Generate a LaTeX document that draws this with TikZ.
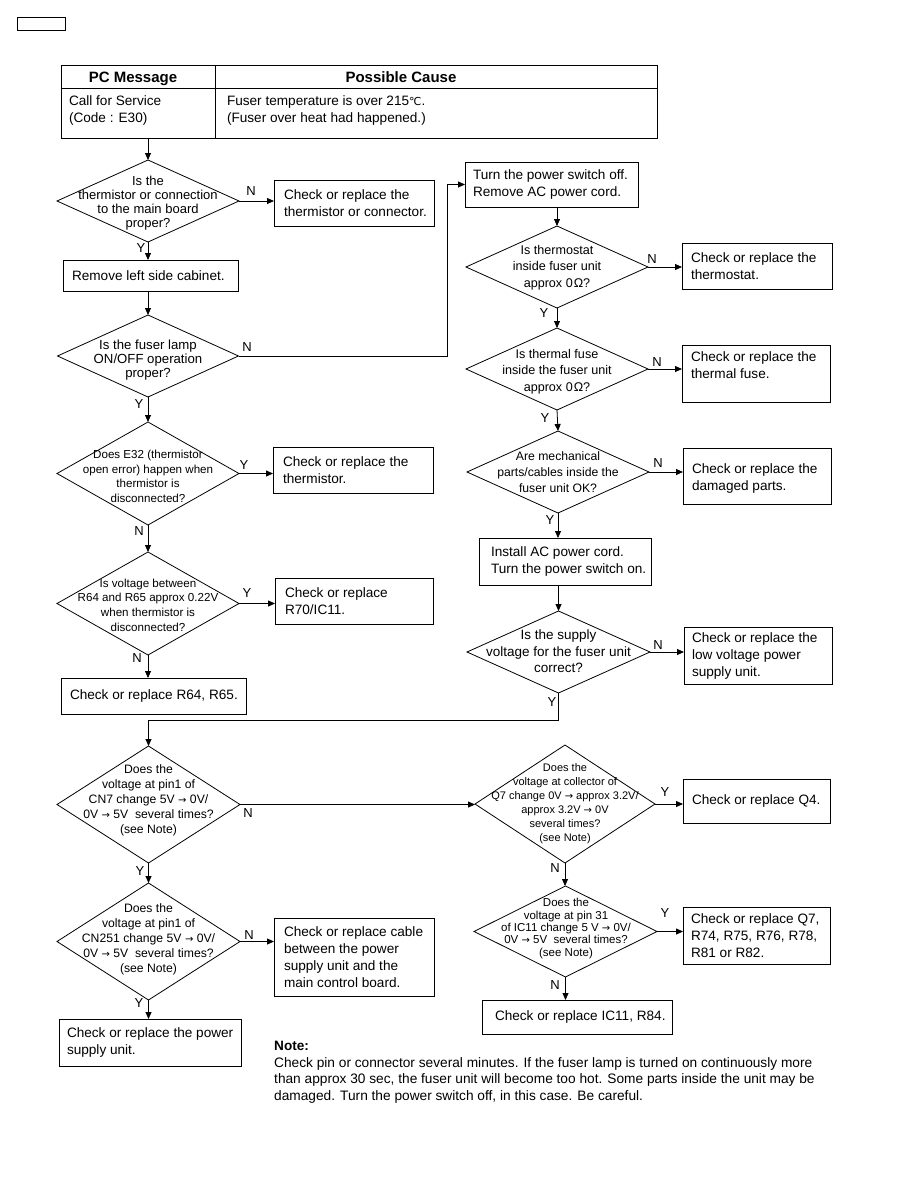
\documentclass[tikz,border=0pt]{standalone}
\usepackage{fontspec}
\setmainfont{Liberation Sans}
\newfontfamily\dejavu{DejaVu Sans}
\usetikzlibrary{shapes.geometric,arrows.meta}
\newcommand\myarr{\ {\dejavu\fontsize{10}{10}\selectfont →}\ }
\tikzset{
 box/.style={draw, rectangle, line width=0.8pt, inner sep=0pt, outer sep=0pt},
 dia/.style={draw, diamond, line width=0.8pt, inner sep=0pt, outer sep=0pt},
 txt/.style={inner sep=0pt, outer sep=0pt, align=left, font=\fontsize{13.6}{17}\selectfont},
 hd/.style={inner sep=0pt, anchor=base, font=\bfseries\fontsize{15}{17}\selectfont},
 dtxt/.style 2 args={inner sep=0pt, align=center, font=\fontsize{#1}{#2}\selectfont},
 lbl/.style={inner sep=0pt, font=\fontsize{13}{13}\selectfont},
 arr/.style={line width=0.8pt, -{Triangle[length=7pt,width=6pt]}},
 ln/.style={line width=0.8pt},
}
\begin{document}
\begin{tikzpicture}[x=1pt,y=-1pt]
\useasboundingbox (0,0) rectangle (918,1188);

% small box top left
\node[box, minimum width=48pt, minimum height=13pt] (sm) at (41,23.5) {};

% table
\node[box, minimum width=154pt, minimum height=23pt] (th1) at (138,76.5) {};
\node[box, minimum width=442pt, minimum height=23pt] (th2) at (436,76.5) {};
\node[box, minimum width=154pt, minimum height=50pt] (tb1) at (138,113) {};
\node[box, minimum width=442pt, minimum height=50pt] (tb2) at (436,113) {};
\node[hd] (th1t) at (133,82.5) {PC Message};
\node[hd] (th2t) at (401,82.5) {Possible Cause};
\node[txt, anchor=west] (tb1t) at (69,110.5) {Call for Service\\(Code : E30)};
\node[txt, anchor=west] (tb2t) at (227,110.5) {Fuser temperature is over 215{\dejavu\fontsize{11}{11}\selectfont ℃}.\\(Fuser over heat had happened.)};

% left column
\node[dia, minimum width=182pt, minimum height=82pt] (d1) at (148,201) {};
\node[dtxt={13}{14}] (d1t) at (148,203) {Is the\\thermistor or connection\\to the main board\\proper?};
\node[box, minimum width=160pt, minimum height=46pt] (b1) at (354,203) {};
\node[txt, anchor=west] (b1t) at ([xshift=10pt]b1.west) {Check or replace the\\thermistor or connector.};

\node[box, minimum width=175pt, minimum height=31pt] (rl) at (150.5,275.5) {};
\node[txt, anchor=west] (rlt) at ([xshift=9pt]rl.west) {Remove left side cabinet.};

\node[dia, minimum width=181pt, minimum height=82pt] (d2) at (148,356) {};
\node[dtxt={13.2}{14}] (d2t) at (148,360) {Is the fuser lamp\\ON/OFF operation\\proper?};

\node[dia, minimum width=182pt, minimum height=103pt] (d3) at (148,473.5) {};
\node[dtxt={11.6}{14.5}] (d3t) at (148,476.5) {Does E32 (thermistor\\open error) happen when\\thermistor is\\disconnected?};
\node[box, minimum width=160pt, minimum height=46pt] (b3) at (353,470) {};
\node[txt, anchor=west] (b3t) at ([xshift=10pt]b3.west) {Check or replace the\\thermistor.};

\node[dia, minimum width=182pt, minimum height=103pt] (d4) at (148,603.5) {};
\node[dtxt={11.6}{14.7}] (d4t) at (148,605) {Is voltage between\\R64 and R65 approx 0.22V\\when thermistor is\\disconnected?};
\node[box, minimum width=158pt, minimum height=46pt] (b4) at (354,601) {};
\node[txt, anchor=west] (b4t) at ([xshift=10pt]b4.west) {Check or replace\\R70/IC11.};

\node[box, minimum width=185pt, minimum height=36pt] (r6) at (153.5,696) {};
\node[txt, anchor=west] (r6t) at ([xshift=9pt]r6.west) {Check or replace R64, R65.};

% right column
\node[box, minimum width=173pt, minimum height=45pt] (tp) at (551.5,184.5) {};
\node[txt, anchor=west] (tpt) at ([xshift=8pt]tp.west) {Turn the power switch off.\\Remove AC power cord.};

\node[dia, minimum width=182pt, minimum height=82pt] (d5) at (557,267) {};
\node[dtxt={12.6}{16.5}] (d5t) at (557,267.5) {Is thermostat\\inside fuser unit\\approx 0{\kern1pt}Ω?};
\node[box, minimum width=150pt, minimum height=46pt] (b5) at (757,266) {};
\node[txt, anchor=west] (b5t) at ([xshift=9pt]b5.west) {Check or replace the\\thermostat.};

\node[dia, minimum width=182pt, minimum height=82pt] (d6) at (557,369) {};
\node[dtxt={12.6}{16.5}] (d6t) at (557,371.5) {Is thermal fuse\\inside the fuser unit\\approx 0{\kern1pt}Ω?};
\node[box, minimum width=148pt, minimum height=57pt] (b6) at (756,373.5) {};
\node[txt, anchor=west, yshift=8pt] (b6t) at ([xshift=9pt]b6.west) {Check or replace the\\thermal fuse.};

\node[dia, minimum width=182pt, minimum height=82pt] (d7) at (558,472) {};
\node[dtxt={12.2}{16}] (d7t) at (558,472) {Are mechanical\\parts/cables inside the\\fuser unit OK?};
\node[box, minimum width=148pt, minimum height=56pt] (b7) at (757,476) {};
\node[txt, anchor=west, yshift=-2pt] (b7t) at ([xshift=9pt]b7.west) {Check or replace the\\damaged parts.};

\node[box, minimum width=172pt, minimum height=47pt] (ia) at (565,561.5) {};
\node[txt, anchor=west] (iat) at ([xshift=12pt]ia.west) {Install AC power cord.\\Turn the power switch on.};

\node[dia, minimum width=183pt, minimum height=82pt] (d8) at (558.5,652) {};
\node[dtxt={13.5}{16.5}] (d8t) at (558.5,651.5) {Is the supply\\voltage for the fuser unit\\correct?};
\node[box, minimum width=148pt, minimum height=57pt] (b8) at (758,655.5) {};
\node[txt, anchor=west] (b8t) at ([xshift=8pt]b8.west) {Check or replace the\\low voltage power\\supply unit.};

% lower part
\node[dia, minimum width=183pt, minimum height=117pt] (d9) at (148.5,804.5) {};
\node[dtxt={12.2}{15}] (d9t) at (148.5,800) {Does the\\voltage at pin1 of\\CN7 change 5V\myarr 0V/\\0V\myarr 5V\ \ several times?\\(see Note)};

\node[dia, minimum width=180pt, minimum height=118pt] (d10) at (565,804) {};
\node[dtxt={11}{14}] (d10t) at (565,804) {Does the\\voltage at collector of\\Q7 change 0V\myarr approx 3.2V/\\approx 3.2V\myarr 0V\\several times?\\(see Note)};
\node[box, minimum width=147pt, minimum height=44pt] (b10) at (756.5,801) {};
\node[txt, anchor=west] (b10t) at ([xshift=9pt]b10.west) {Check or replace Q4.};

\node[dia, minimum width=183pt, minimum height=91pt] (d11) at (565.5,931.5) {};
\node[dtxt={11.5}{12.3}] (d11t) at (566,928.5) {Does the\\voltage at pin 31\\of IC11 change 5 V\myarr 0V/\\0V\myarr 5V\ \ several times?\\(see Note)};
\node[box, minimum width=147pt, minimum height=57pt] (b11) at (756.5,935.5) {};
\node[txt, anchor=west] (b11t) at ([xshift=8pt]b11.west) {Check or replace Q7,\\R74, R75, R76, R78,\\R81 or R82.};

\node[box, minimum width=190pt, minimum height=34pt] (ic) at (577,1017) {};
\node[txt, anchor=west] (ict) at ([xshift=13pt]ic.west) {Check or replace IC11, R84.};

\node[dia, minimum width=183pt, minimum height=117pt] (d12) at (148.5,941.5) {};
\node[dtxt={12.2}{15}] (d12t) at (148.5,939.5) {Does the\\voltage at pin1 of\\CN251 change 5V\myarr 0V/\\0V\myarr 5V\ \ several times?\\(see Note)};
\node[box, minimum width=160pt, minimum height=78pt] (b12) at (354,957) {};
\node[txt, anchor=west] (b12t) at ([xshift=10pt]b12.west) {Check or replace cable\\between the power\\supply unit and the\\main control board.};

\node[box, minimum width=182pt, minimum height=47pt] (ps) at (150,1042.5) {};
\node[txt, anchor=west] (pst) at ([xshift=8pt]ps.west) {Check or replace the power\\supply unit.};

% note
\node[inner sep=0pt, anchor=west, font=\bfseries\fontsize{13.6}{17}\selectfont] (nt) at (274,1046) {Note:};
\node[inner sep=0pt, anchor=north west, align=left, font=\fontsize{13.7}{16.8}\selectfont] (ntx) at (274,1057) {Check pin or connector several minutes. If the fuser lamp is turned on continuously more\\than approx 30 sec, the fuser unit will become too hot. Some parts inside the unit may be\\damaged. Turn the power switch off, in this case. Be careful.};

% connectors
\draw[arr] (d1.north |- tb1.south) -- (d1.north);
\draw[arr] (d1.east) -- (d1.east -| b1.west);
\draw[arr] (d1.south) -- (d1.south |- rl.north);
\draw[arr] (d2.north |- rl.south) -- (d2.north);
\draw[arr] (d2.east) -- ([xshift=-18pt]tp.west |- d2.east) -- ([xshift=-18pt]tp.west) -- (tp.west);
\draw[arr] (d2.south) -- (d3.north);
\draw[arr] (d3.east) -- (d3.east -| b3.west);
\draw[arr] (d3.south) -- (d4.north);
\draw[arr] (d4.east) -- (d4.east -| b4.west);
\draw[arr] (d4.south) -- (d4.south |- r6.north);

\draw[arr] (d5.north |- tp.south) -- (d5.north);
\draw[arr] (d5.east) -- (d5.east -| b5.west);
\draw[arr] (d5.south) -- (d6.north);
\draw[arr] (d6.east) -- (d6.east -| b6.west);
\draw[arr] (d6.south) -- (d7.north);
\draw[arr] (d7.east) -- (d7.east -| b7.west);
\draw[arr] (d7.south) -- (d7.south |- ia.north);
\draw[arr] (d8.north |- ia.south) -- (d8.north);
\draw[arr] (d8.east) -- (d8.east -| b8.west);
\draw[arr] (d8.south) -- ++(0,27) -| (d9.north);

\draw[arr] (d9.east) -- (d9.east -| d10.west);
\draw[arr] (d10.east) -- (d10.east -| b10.west);
\draw[arr] (d10.south) -- (d10.south |- d11.north);
\draw[arr] (d11.east) -- (d11.east -| b11.west);
\draw[arr] (d11.south) -- (d11.south |- ic.north);
\draw[arr] (d9.south) -- (d12.north);
\draw[arr] (d12.east) -- (d12.east -| b12.west);
\draw[arr] (d12.south) -- (d12.south |- ps.north);

% labels
\node[lbl] (l1n) at (251,191) {N};
\node[lbl] (l1y) at (141,248) {Y};
\node[lbl] (l2n) at (247,347) {N};
\node[lbl] (l2y) at (139,404) {Y};
\node[lbl] (l3y) at (244,465) {Y};
\node[lbl] (l3n) at (139,531) {N};
\node[lbl] (l4y) at (247,593) {Y};
\node[lbl] (l4n) at (137,658) {N};
\node[lbl] (l5n) at (652,259) {N};
\node[lbl] (l5y) at (544,313) {Y};
\node[lbl] (l6n) at (657,362) {N};
\node[lbl] (l6y) at (545,418) {Y};
\node[lbl] (l7n) at (658,463) {N};
\node[lbl] (l7y) at (550,520) {Y};
\node[lbl] (l8n) at (658,645) {N};
\node[lbl] (l8y) at (552,702) {Y};
\node[lbl] (l9n) at (248,813) {N};
\node[lbl] (l9y) at (140,871) {Y};
\node[lbl] (l12n) at (249,935) {N};
\node[lbl] (l12y) at (139,1003) {Y};
\node[lbl] (l10y) at (665,792) {Y};
\node[lbl] (l10n) at (555,868) {N};
\node[lbl] (l11y) at (665,913) {Y};
\node[lbl] (l11n) at (555,985) {N};
\end{tikzpicture}
\end{document}
